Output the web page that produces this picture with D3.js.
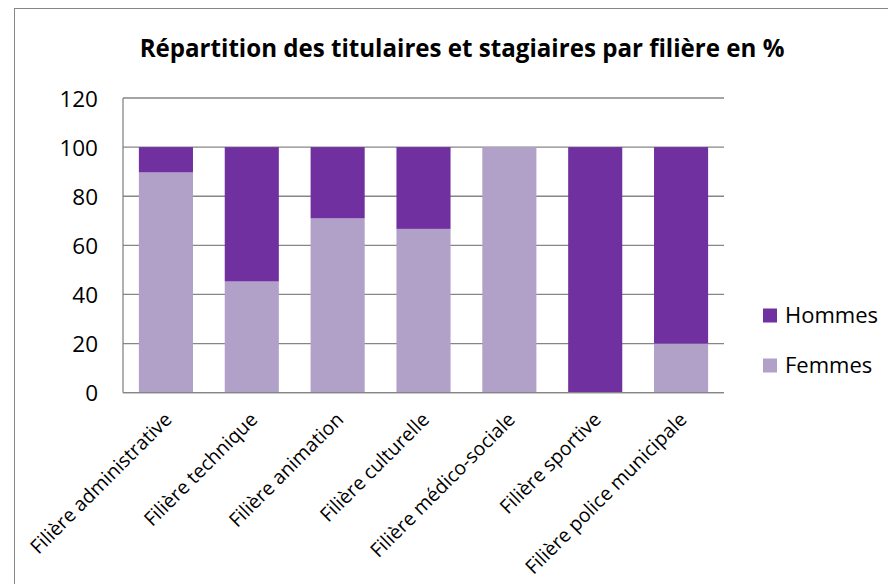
<!DOCTYPE html>
<html><head><meta charset="utf-8">
<script src="https://cdn.jsdelivr.net/npm/d3@7"></script>
<style>body{margin:0;background:#fff}svg{display:block}text{font-family:"Open Sans",Lato,sans-serif}</style>
</head><body><svg id="c" width="888" height="584"></svg>
<script>
const categories = ["Filière administrative","Filière technique","Filière animation","Filière culturelle","Filière médico-sociale","Filière sportive","Filière police municipale"];
const femmes = [89.7, 45.3, 71, 66.7, 100, 0, 20];
const hommes = [10.3, 54.7, 29, 33.3, 0, 100, 80];
const yTicks = [0, 20, 40, 60, 80, 100, 120];
const seriesNames = ["Femmes", "Hommes"];
const colors = {Femmes: "#B1A0C7", Hommes: "#7030A0"};
const title = "Répartition des titulaires et stagiaires par filière en %";

const svg = d3.select("#c");
svg.append("rect").attr("x",14.5).attr("y",8.5).attr("width",900).attr("height",600)
  .attr("fill","#fff").attr("stroke","#868686").attr("stroke-width",1);

const m = {l:123, t:98, r:724, b:392.7};
const x = d3.scaleBand().domain(categories).range([m.l, m.r]).paddingInner(0.37).paddingOuter(0.185);
const y = d3.scaleLinear().domain([0,120]).range([m.b, m.t]);

const data = categories.map((c,i)=>({cat:c, Femmes:femmes[i], Hommes:hommes[i]}));
const stack = d3.stack().keys(seriesNames)(data);

function fit(sel, target){
  sel.each(function(){
    const w = this.getComputedTextLength();
    const fs = parseFloat(this.getAttribute("font-size"));
    if (w > 0) this.setAttribute("font-size", (fs*target/w).toFixed(2));
  });
}

svg.append("g").selectAll("line").data(yTicks).join("line")
  .attr("x1", m.l).attr("x2", m.r).attr("y1", d=>y(d)).attr("y2", d=>y(d))
  .attr("stroke","#868686").attr("stroke-width",1.3);

svg.append("g").selectAll("g").data(stack).join("g").attr("fill", d=>colors[d.key])
  .selectAll("rect").data(d=>d).join("rect")
  .attr("x", d=>x(d.data.cat)).attr("width", x.bandwidth())
  .attr("y", d=>y(d[1])).attr("height", d=>y(d[0])-y(d[1]));

svg.append("line").attr("x1",m.l).attr("x2",m.l).attr("y1",m.t).attr("y2",m.b).attr("stroke","#868686").attr("stroke-width",1.3);
svg.append("line").attr("x1",m.l).attr("x2",m.r).attr("y1",m.b).attr("y2",m.b).attr("stroke","#868686").attr("stroke-width",1.3);

const yAxis = d3.axisLeft(y).tickValues(yTicks).tickSize(0).tickPadding(0);
const ya = svg.append("g").attr("transform",`translate(${m.l-25},0)`).call(yAxis);
ya.select(".domain").remove();
ya.selectAll("text").attr("font-size",22.5).attr("fill","#000").attr("font-family","'Open Sans',sans-serif").attr("dy","0.36em");

const xl = svg.append("g").selectAll("text").data(categories).join("text")
  .attr("transform", d=>`translate(${x(d)+x.bandwidth()/2+7},${m.b+28}) rotate(-45)`)
  .attr("text-anchor","end").attr("font-size",16).attr("fill","#000")
  .text(d=>d);
fit(xl.filter((d,i)=>i===0), 190);
const xfs = xl.filter((d,i)=>i===0).attr("font-size");
xl.attr("font-size", xfs);

const t = svg.append("text").attr("x",462).attr("y",57).attr("text-anchor","middle")
  .attr("font-size",21).attr("font-weight","bold").attr("fill","#000").text(title);
fit(t, 645);

const leg = ["Hommes","Femmes"];
const lg = svg.append("g").selectAll("g").data(leg).join("g")
  .attr("transform",(d,i)=>`translate(763,${315.5+i*50})`);
lg.append("rect").attr("x",0).attr("y",-7).attr("width",14).attr("height",14).attr("fill",d=>colors[d]);
lg.append("text").attr("x",22).attr("y",7.5).attr("font-size",22).attr("fill","#000").text(d=>d);
</script></body></html>
